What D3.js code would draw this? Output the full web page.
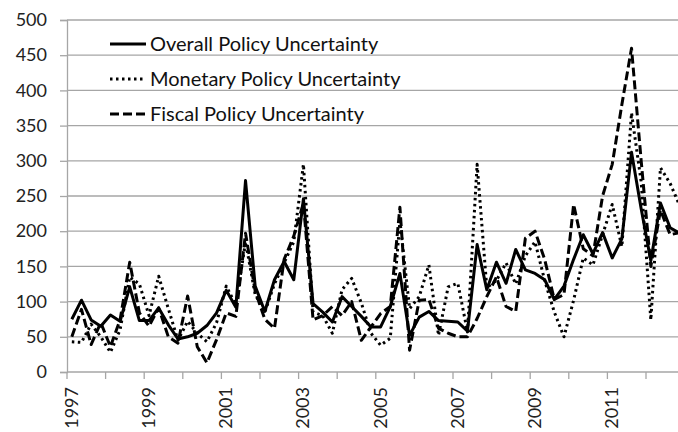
<!DOCTYPE html>
<html>
<head>
<meta charset="utf-8">
<script src="https://cdn.jsdelivr.net/npm/d3@7"></script>
<style>
  body { margin: 0; background: #fff; }
  svg { display: block; }
  text { font-family: Lato, "Open Sans", sans-serif; }
</style>
</head>
<body>
<div id="chart"></div>
<script>
// quarterly index values, 1997Q1 .. 2012Q4
var years = d3.range(1997, 2013);
var quarters = [];
years.forEach(function (y) {
  ["Q1", "Q2", "Q3", "Q4"].forEach(function (q) { quarters.push(y + q); });
});
var tickLabels = ["1997", "1999", "2001", "2003", "2005", "2007", "2009", "2011"];
var yTicks = [0, 50, 100, 150, 200, 250, 300, 350, 400, 450, 500];

var overall = [75, 102, 74, 65, 81, 72, 121, 73, 73, 91, 67, 47, 50, 55, 66, 84,
  116, 92, 272, 122, 86, 131, 157, 131, 246, 97, 85, 71, 107, 93, 79, 64,
  64, 93, 140, 52, 78, 86, 73, 72, 71, 58, 181, 117, 156, 126, 174, 145,
  140, 131, 103, 122, 160, 195, 168, 198, 162, 189, 312, 232, 158, 240, 205, 197];

var monetary = [43, 42, 68, 50, 28, 60, 135, 125, 80, 136, 90, 45, 72, 55, 43, 70,
  122, 95, 185, 110, 85, 125, 155, 185, 295, 85, 80, 55, 117, 133, 98, 55,
  38, 48, 215, 90, 107, 152, 52, 121, 126, 57, 295, 120, 130, 155, 125, 165,
  185, 130, 85, 50, 102, 162, 152, 195, 238, 178, 368, 270, 74, 290, 268, 236];

var fiscal = [50, 89, 39, 70, 36, 74, 156, 84, 65, 91, 50, 41, 108, 36, 13, 46,
  84, 79, 197, 115, 75, 62, 160, 193, 240, 74, 80, 93, 80, 100, 45, 64,
  83, 93, 234, 31, 102, 103, 62, 55, 50, 50, 76, 107, 135, 93, 86, 190,
  200, 160, 103, 110, 238, 175, 165, 250, 295, 380, 460, 300, 150, 230, 195, 198];

var seriesNames = ["Overall Policy Uncertainty", "Monetary Policy Uncertainty", "Fiscal Policy Uncertainty"];

function drawChart() {
  var svgWidth = 678, svgHeight = 432;
  var plotLeft = 67, plotTop = 20, plotBottom = 372;
  var qWidth = 9.65;
  var gridColor = "#a6a6a6";

  var svg = d3.select("#chart").append("svg")
    .attr("width", svgWidth)
    .attr("height", svgHeight);

  var x = d3.scaleBand()
    .domain(quarters)
    .range([plotLeft, plotLeft + quarters.length * qWidth])
    .padding(0);

  var y = d3.scaleLinear()
    .domain([0, 500])
    .range([plotBottom, plotTop]);

  // gridlines
  svg.append("g")
    .selectAll("line")
    .data(yTicks.slice(1))
    .enter()
    .append("line")
    .attr("x1", plotLeft)
    .attr("x2", svgWidth)
    .attr("y1", d => y(d))
    .attr("y2", d => y(d))
    .attr("stroke", gridColor)
    .attr("stroke-width", 1.3);

  // y axis
  var yAxis = svg.append("g")
    .attr("transform", `translate(${plotLeft},0)`)
    .call(d3.axisLeft(y).tickValues(yTicks).tickSize(7).tickPadding(13));
  yAxis.select(".domain").attr("stroke", gridColor).attr("stroke-width", 1.3);
  yAxis.selectAll(".tick line").attr("stroke", gridColor).attr("stroke-width", 1.3);
  yAxis.selectAll("text")
    .attr("font-size", "18px")
    .attr("fill", "#222")
    .style("font-family", "Lato, sans-serif");

  // x axis: ticks on year boundaries, labels centred on the first quarter
  svg.append("line")
    .attr("x1", plotLeft).attr("x2", svgWidth)
    .attr("y1", plotBottom).attr("y2", plotBottom)
    .attr("stroke", gridColor).attr("stroke-width", 1.3);

  svg.append("g")
    .selectAll("line")
    .data(years)
    .enter()
    .append("line")
    .attr("x1", d => x(d + "Q1"))
    .attr("x2", d => x(d + "Q1"))
    .attr("y1", plotBottom)
    .attr("y2", plotBottom + 7)
    .attr("stroke", gridColor)
    .attr("stroke-width", 1.3);

  svg.append("g")
    .selectAll("text")
    .data(tickLabels)
    .enter()
    .append("text")
    .attr("transform", d => `translate(${x(d + "Q1") + x.bandwidth() / 2 + 6}, ${plotBottom + 15}) rotate(-90)`)
    .attr("text-anchor", "end")
    .attr("font-size", "18px")
    .attr("fill", "#222")
    .text(d => d);

  // lines
  var line = d3.line()
    .x((d, i) => x(quarters[i]) + x.bandwidth() / 2)
    .y(d => y(d));

  var styles = [
    { data: fiscal, dash: "9,4" },
    { data: monetary, dash: "2.5,3.5" },
    { data: overall, dash: null }
  ];

  styles.forEach(function (s) {
    svg.append("path")
      .datum(s.data)
      .attr("d", line)
      .attr("fill", "none")
      .attr("stroke", "#000")
      .attr("stroke-width", 3)
      .attr("stroke-linejoin", "round")
      .attr("stroke-dasharray", s.dash);
  });

  // legend
  var legendDash = [null, "2.5,3.5", "9,4"];
  var legend = svg.append("g");
  seriesNames.forEach(function (name, i) {
    var cy = 44 + i * 35;
    legend.append("line")
      .attr("x1", 110).attr("x2", 146)
      .attr("y1", cy).attr("y2", cy)
      .attr("stroke", "#000")
      .attr("stroke-width", 3)
      .attr("stroke-dasharray", legendDash[i]);
    legend.append("text")
      .attr("x", 150)
      .attr("y", cy + 7)
      .attr("font-size", "20px")
      .attr("fill", "#111")
      .text(name);
  });
}

drawChart();
</script>
</body>
</html>
